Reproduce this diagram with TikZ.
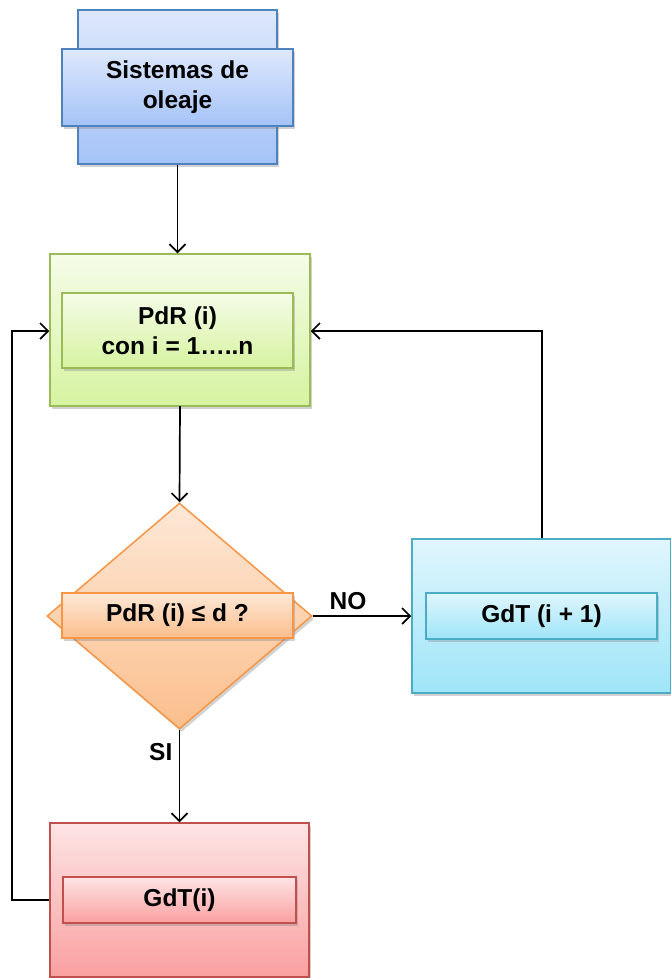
\documentclass[tikz,border=0pt]{standalone}
\usepackage{fontspec}
\setmainfont{Liberation Sans}
\usetikzlibrary{shapes.geometric,shadows,arrows.meta}
\definecolor{bluetop}{RGB}{222,232,252}
\definecolor{bluebot}{RGB}{165,195,247}
\definecolor{blueline}{RGB}{79,129,189}
\definecolor{greentop}{RGB}{245,252,232}
\definecolor{greenbot}{RGB}{214,243,160}
\definecolor{greenline}{RGB}{155,187,89}
\definecolor{orangetop}{RGB}{253,232,215}
\definecolor{orangebot}{RGB}{251,190,140}
\definecolor{orangeline}{RGB}{247,150,70}
\definecolor{cyantop}{RGB}{224,246,253}
\definecolor{cyanbot}{RGB}{158,229,248}
\definecolor{cyanline}{RGB}{75,172,198}
\definecolor{redtop}{RGB}{253,228,228}
\definecolor{redbot}{RGB}{250,160,160}
\definecolor{redline}{RGB}{192,80,77}
\tikzset{
  box/.style={rectangle, inner sep=0pt, line width=1.5pt,
    drop shadow={shadow xshift=2pt, shadow yshift=-3pt, opacity=0.35}},
  bluebox/.style={box, draw=blueline, top color=bluetop, bottom color=bluebot},
  greenbox/.style={box, draw=greenline, top color=greentop, bottom color=greenbot},
  orangebox/.style={box, draw=orangeline, top color=orangetop, bottom color=orangebot},
  cyanbox/.style={box, draw=cyanline, top color=cyantop, bottom color=cyanbot},
  redbox/.style={box, draw=redline, top color=redtop, bottom color=redbot},
  lbl/.style={font=\fontsize{24.5}{30}\selectfont\bfseries, align=center, text=black},
  conn/.style={line width=1.7pt, -{Straight Barb[length=8pt,width=16pt,line width=1.7pt]}}
}
\begin{document}
\begin{tikzpicture}[x=1pt,y=-1pt]
\fill[white] (0,0) rectangle (670,978);
\useasboundingbox (0,0) rectangle (670,978);
% blue
\node[bluebox, minimum width=199pt, minimum height=154pt] (bo) at (177.5,87) {};
\node[bluebox, minimum width=231pt, minimum height=77pt, lbl] (bi) at (177.5,87.5) {Sistemas de\\oleaje};
% green
\node[greenbox, minimum width=260pt, minimum height=152pt] (go) at (180,330) {};
\node[greenbox, minimum width=231pt, minimum height=75pt, lbl] (gi) at (177.5,330.5) {PdR (i)\\con i = 1…..n};
% diamond
\node[orangebox, shape=diamond, shape aspect=1.17, minimum width=265pt, minimum height=226pt] (dia) at (179.5,616) {};
\node[orangebox, minimum width=231pt, minimum height=45pt, lbl] (di) at (177.5,615.5) {PdR (i) ≤ d ?};
% cyan
\node[cyanbox, minimum width=259pt, minimum height=154pt] (co) at (541.5,616) {};
\node[cyanbox, minimum width=231pt, minimum height=46pt, lbl] (ci) at (541.5,616) {GdT (i + 1)};
% red
\node[redbox, minimum width=259pt, minimum height=154pt] (ro) at (179.5,900) {};
\node[redbox, minimum width=233pt, minimum height=46pt, lbl] (ri) at (179.5,900) {GdT(i)};
% connectors
\coordinate (tr) at (542,331);
\coordinate (tl) at (12,331);
\coordinate (bl) at (12,900);
\draw[conn] (bo.south) -- (bo.south |- go.north);
\draw[conn] (180,406) -- (dia.north);
\draw[conn] (dia.east) -- node[lbl, above, yshift=2pt, xshift=-14pt] {NO} (co.west);
\draw[conn] (co.north -| tr) -- (tr) -- (go.east |- tr);
\draw[conn] (dia.south) -- node[lbl, pos=0.24, left, xshift=-3pt] {SI} (ro.north);
\draw[conn] (ro.west) -- (bl) -- (tl) -- (go.west |- tl);
\end{tikzpicture}
\end{document}
